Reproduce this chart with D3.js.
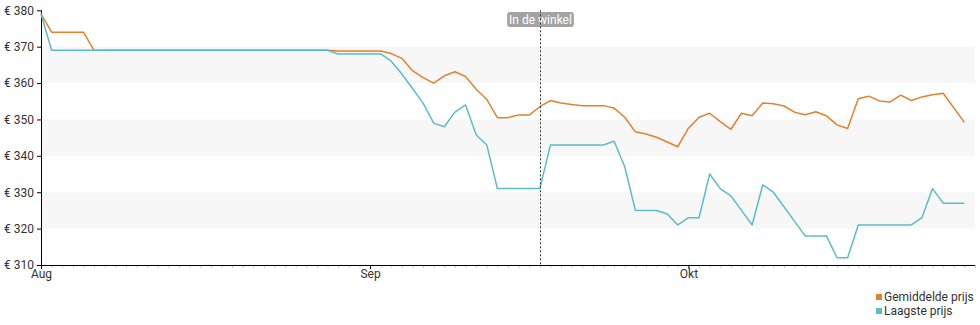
<!DOCTYPE html>
<html>
<head>
<meta charset="utf-8">
<script src="https://cdn.jsdelivr.net/npm/d3@7"></script>
<style>
  html, body { margin: 0; padding: 0; background: #fff; }
  #chart { width: 980px; height: 325px; }
  text { font-family: Roboto, "Noto Sans", sans-serif; }
</style>
</head>
<body>
<div id="chart"></div>
<script>
// prijsverloop, dagelijks
const dates = [
  "2023-08-01","2023-08-02","2023-08-03","2023-08-04","2023-08-05","2023-08-06","2023-08-07","2023-08-08",
  "2023-08-09","2023-08-10","2023-08-11","2023-08-12","2023-08-13","2023-08-14","2023-08-15","2023-08-16",
  "2023-08-17","2023-08-18","2023-08-19","2023-08-20","2023-08-21","2023-08-22","2023-08-23","2023-08-24",
  "2023-08-25","2023-08-26","2023-08-27","2023-08-28","2023-08-29","2023-08-30","2023-08-31",
  "2023-09-01","2023-09-02","2023-09-03","2023-09-04","2023-09-05","2023-09-06","2023-09-07","2023-09-08",
  "2023-09-09","2023-09-10","2023-09-11","2023-09-12","2023-09-13","2023-09-14","2023-09-15","2023-09-16",
  "2023-09-17","2023-09-18","2023-09-19","2023-09-20","2023-09-21","2023-09-22","2023-09-23","2023-09-24",
  "2023-09-25","2023-09-26","2023-09-27","2023-09-28","2023-09-29","2023-09-30",
  "2023-10-01","2023-10-02","2023-10-03","2023-10-04","2023-10-05","2023-10-06","2023-10-07","2023-10-08",
  "2023-10-09","2023-10-10","2023-10-11","2023-10-12","2023-10-13","2023-10-14","2023-10-15","2023-10-16",
  "2023-10-17","2023-10-18","2023-10-19","2023-10-20","2023-10-21","2023-10-22","2023-10-23","2023-10-24",
  "2023-10-25","2023-10-27"
];

const avgPrices = [
  379, 374, 374, 374, 374, 369, 369, 369,
  369, 369, 369, 369, 369, 369, 369, 369,
  369, 369, 369, 369, 369, 369, 369, 369,
  369, 369, 369, 369, 368.8, 368.8, 368.8,
  368.8, 368.8, 368.1, 366.8, 363.4, 361.5, 360, 362,
  363.1, 361.8, 358.3, 355.5, 350.5, 350.5, 351.2, 351.2,
  353.5, 355.2, 354.5, 354.1, 353.8, 353.8, 353.8, 353.1,
  350.6, 346.6, 346.0, 345.1, 343.8, 342.5,
  347.6, 350.6, 351.7, 349.4, 347.3, 351.7, 351.0, 354.5,
  354.3, 353.7, 352.0, 351.3, 352.1, 351.0, 348.5, 347.5,
  355.7, 356.4, 355.1, 354.8, 356.7, 355.2, 356.2, 356.8,
  357.2, 349.2
];

const lowPrices = [
  379, 369, 369, 369, 369, 369, 369, 369,
  369, 369, 369, 369, 369, 369, 369, 369,
  369, 369, 369, 369, 369, 369, 369, 369,
  369, 369, 369, 369, 368, 368, 368,
  368, 368, 366, 362.5, 358.5, 354.5, 349, 348,
  352, 354, 345.8, 343, 331, 331, 331, 331,
  331, 343, 343, 343, 343, 343, 343, 344,
  337, 325, 325, 325, 324, 321,
  323, 323, 335, 331, 329, 325, 321, 332,
  330, 326, 322, 318, 318, 318, 312, 312,
  321, 321, 321, 321, 321, 321, 323, 331,
  327, 327
];

const seriesNames = ["Gemiddelde prijs", "Laagste prijs"];
const seriesColors = ["#e5802e", "#5bbec6"];
const yTicks = [310, 320, 330, 340, 350, 360, 370, 380];
const bands = [[360, 370], [340, 350], [320, 330]];
const monthNames = ["Jan", "Feb", "Mrt", "Apr", "Mei", "Jun", "Jul", "Aug", "Sep", "Okt", "Nov", "Dec"];
const markerDate = "2023-09-17";
const markerLabel = "In de winkel";

const width = 980, height = 325;
const plotLeft = 41, plotRight = 975, plotTop = 10.3, plotBottom = 265;

const parse = d3.timeParse("%Y-%m-%d");
const rows = dates.map((d, i) => ({ date: parse(d), avg: avgPrices[i], low: lowPrices[i] }));

const svg = d3.select("#chart").append("svg")
  .attr("width", width)
  .attr("height", height)
  .attr("viewBox", [0, 0, width, height]);

const x = d3.scaleTime()
  .domain([parse("2023-08-01"), parse("2023-10-28")])
  .range([plotLeft, plotRight]);

const y = d3.scaleLinear()
  .domain([310, 380])
  .range([plotBottom, plotTop]);

// grijze banden
svg.append("g")
  .selectAll("rect")
  .data(bands)
  .join("rect")
  .attr("x", plotLeft)
  .attr("width", plotRight - plotLeft)
  .attr("y", d => y(d[1]))
  .attr("height", d => y(d[0]) - y(d[1]))
  .attr("fill", "#f7f7f7");

// kleine dagticks
svg.append("g")
  .attr("transform", `translate(0,${plotBottom})`)
  .call(d3.axisBottom(x).ticks(d3.timeDay.every(1)).tickSize(3).tickFormat(""))
  .call(g => g.select(".domain").remove())
  .call(g => g.selectAll("line").attr("stroke", "#d0d0d0"));

// x-as
svg.append("g")
  .attr("transform", `translate(0,${plotBottom})`)
  .call(d3.axisBottom(x)
    .ticks(d3.timeMonth.every(1))
    .tickSize(4)
    .tickPadding(0)
    .tickFormat(d => monthNames[d.getMonth()]))
  .call(g => g.select(".domain").attr("d", `M${plotLeft},0.5H${plotRight}`).attr("stroke", "#000"))
  .call(g => g.selectAll("text").attr("font-size", 12).attr("fill", "#333")
    .attr("font-family", "Roboto, sans-serif"));

// y-as
svg.append("g")
  .attr("transform", `translate(${plotLeft},0)`)
  .call(d3.axisLeft(y)
    .tickValues(yTicks)
    .tickSize(4)
    .tickPadding(3)
    .tickFormat(d => "€ " + d))
  .call(g => g.select(".domain").attr("d", `M0.5,${plotTop}V${plotBottom}`).attr("stroke", "#000"))
  .call(g => g.selectAll("text").attr("font-size", 12).attr("fill", "#333")
    .attr("font-family", "Roboto, sans-serif"));

const lineAvg = d3.line().x(d => x(d.date)).y(d => y(d.avg));
const lineLow = d3.line().x(d => x(d.date)).y(d => y(d.low));

svg.append("path")
  .datum(rows)
  .attr("fill", "none")
  .attr("stroke", seriesColors[0])
  .attr("stroke-width", 1.5)
  .attr("stroke-linejoin", "round")
  .attr("d", lineAvg);

svg.append("path")
  .datum(rows)
  .attr("fill", "none")
  .attr("stroke", seriesColors[1])
  .attr("stroke-width", 1.5)
  .attr("stroke-linejoin", "round")
  .attr("d", lineLow);

// marker "In de winkel"
const mx = Math.round(x(parse(markerDate))) + 0.5;
const marker = svg.append("g");
const lbl = marker.append("text")
  .attr("x", mx)
  .attr("y", 23.5)
  .attr("text-anchor", "middle")
  .attr("font-size", 12)
  .attr("fill", "#fff")
  .text(markerLabel);
const bb = lbl.node().getBBox();
marker.insert("rect", "text")
  .attr("x", bb.x - 2)
  .attr("y", 12)
  .attr("width", bb.width + 4)
  .attr("height", 15)
  .attr("rx", 3)
  .attr("fill", "#999")
  .attr("opacity", 0.9);
marker.append("line")
  .attr("x1", mx).attr("x2", mx)
  .attr("y1", plotTop).attr("y2", plotBottom)
  .attr("stroke", "#333")
  .attr("stroke-dasharray", "2,2");

// legenda
const legend = svg.append("g")
  .selectAll("g")
  .data(seriesNames)
  .join("g")
  .attr("transform", (d, i) => `translate(876,${294 + i * 14})`);

legend.append("rect")
  .attr("width", 6)
  .attr("height", 6)
  .attr("fill", (d, i) => seriesColors[i]);

legend.append("text")
  .attr("x", 8)
  .attr("y", 7)
  .attr("font-size", 12)
  .attr("fill", "#333")
  .text(d => d);
</script>
</body>
</html>
